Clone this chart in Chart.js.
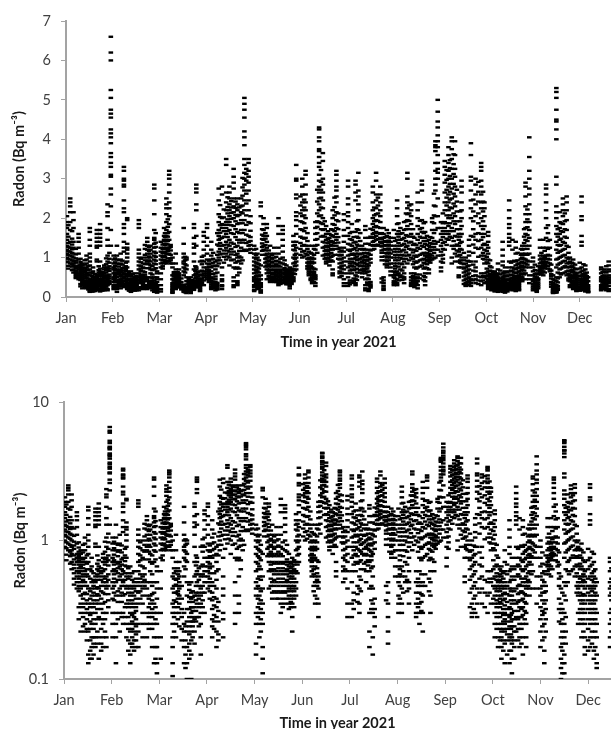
<!DOCTYPE html>
<html>
<head>
<meta charset="utf-8">
<script src="https://cdn.jsdelivr.net/npm/chart.js@4"></script>
<style>
  html, body { margin: 0; padding: 0; background: #fff; overflow: hidden; }
  canvas { position: absolute; left: 0; }
</style>
</head>
<body>
<canvas id="linearChart" style="top:0"></canvas>
<canvas id="logChart" style="top:380px"></canvas>
<script>
const months = ['Jan', 'Feb', 'Mar', 'Apr', 'May', 'Jun', 'Jul', 'Aug', 'Sep', 'Oct', 'Nov', 'Dec'];
const linearTicks = [0, 1, 2, 3, 4, 5, 6, 7];
const logTicks = [0.1, 1, 10];

// every row: fraction of the month, then the radon values read in that column
const jan = [
  [.02, 2.05,1.9,1.75,1.6,1.45,1.3,1.2,1.1,1,.9],
  [.09, 2.5,2.4,2.3,2.15,1.9,1.7,1.4,1.25,1.15,1.05,.95,.85],
  [.16, 2.15,1.95,1.75,1.4,1.25,1.1,1,.9,.85,.8,.7,.62],
  [.27, 1.6,1.5,1.4,1.25,1.1,.95,.8,.75,.7,.6,.55,.5,.45],
  [.35, .85,.8,.75,.7,.65,.6,.55,.5,.45,.4,.35,.3,.22],
  [.44, 1.05,.95,.85,.75,.7,.6,.55,.5,.42,.35,.3,.25,.22],
  [.51, 1.75,1.65,1.45,1.3,1.1,1,.9,.8,.7,.55,.45,.35,.3,.22,.15,.13],
  [.58, .75,.65,.6,.5,.45,.4,.35,.3,.25,.2,.17,.14],
  [.66, 1.7,1.6,1.5,1.4,1.3,1.25,.95,.9,.55,.5,.45,.4,.35,.3,.25,.2,.17],
  [.73, 1.85,1.7,1.6,1.5,1.4,1.3,.9,.72,.65,.6,.55,.45,.4,.35,.28,.2,.14],
  [.82, .8,.75,.7,.6,.55,.5,.42,.35,.3,.25,.2,.17],
  [.89, 2.35,2.15,2.05,1.75,1.45,1.3,1.05,.9,.75,.7,.55,.5,.45,.3,.2,.17],
  [.96, 6.6,6.2,6,5.25,5.05,4.75,4.65,4.55,4.25,4.15,4.05,3.9,3.65,3.55,3.4,3.3,3.1,3.05,2.75,2.6,2.3,1.7,1.3]
];
const janB = [
  [.05, 1.82,1.53,1.37,1.27,1.16,1.07,.97,.88,.79,.72],
  [.13, 1.67,1.48,1.33,1.21,1.12,1.03,.93,.83,.77,.68],
  [.21, 1.22,1.08,.98,.92,.87,.78,.73,.67,.63,.58,.53,.48],
  [.31, .97,.89,.83,.77,.72,.67,.63,.58,.53,.47,.43,.33,.27],
  [.4, .93,.82,.73,.67,.63,.57,.52,.47,.41,.38,.33,.28,.24],
  [.48, .78,.68,.62,.57,.47,.41,.37,.32,.27,.23,.19],
  [.55, .62,.53,.43,.38,.33,.29,.26,.23,.19,.16,.14],
  [.62, .58,.52,.47,.42,.37,.33,.27,.23,.2,.18,.15],
  [.7, .78,.68,.62,.57,.52,.46,.41,.37,.32,.27,.22,.18],
  [.78, .63,.58,.52,.47,.43,.38,.32,.27,.23,.18,.16],
  [.86, .98,.83,.73,.67,.62,.53,.47,.41,.36,.27,.22],
  [.93, 1.12,.97,.87,.78,.72,.66,.57,.52,.47,.41,.37,.33]
];
const feb = [
  [.02, 1.05,.95,.85,.75,.7,.6,.5,.45,.38,.3,.25,.2],
  [.09, 1.3,1.05,.95,.85,.7,.6,.5,.4,.3,.25,.2,.13],
  [.17, 1.1,.95,.85,.7,.65,.55,.45,.4,.3,.22],
  [.24, 3.3,3.2,3,2.95,2.85,2.8,2.45,2.25,2.15,1.85,1.75,1.6,1.4,1.25,1.15,.75,.6,.5,.4,.3,.25],
  [.31, 2,1.95,1.35,1.25,1.2,1.1,1,.9,.75,.65,.55,.45,.35,.25,.2],
  [.39, .65,.55,.45,.4,.35,.3,.25,.22,.18,.15,.13],
  [.47, .6,.5,.45,.4,.35,.3,.28,.25,.22,.19,.16],
  [.56, 1.95,1.85,1.75,1.2,1.1,1,.9,.8,.7,.6,.5,.42,.35,.25,.22,.17],
  [.65, 1,.85,.75,.65,.55,.5,.45,.4,.35,.3,.25,.2],
  [.74, 1.5,1.4,1.3,1.2,1.1,1,.9,.85,.5,.45,.4,.3,.25,.2],
  [.81, 1.3,1.2,1.1,1,.9,.8,.7,.6,.5,.4,.35,.3,.25],
  [.89, 2.85,2.75,2.45,2.1,1.7,1.5,1.45,1.35,1.25,1.15,1.05,.95,.85,.7,.5,.42,.35,.3,.25,.2,.13],
  [.95, .65,.6,.5,.45,.38,.3,.25,.2,.17,.13,.11]
];
const febB = [
  [.05, .98,.88,.79,.72,.67,.62,.57,.53,.47,.42,.37],
  [.13, .93,.83,.77,.68,.63,.58,.52,.43,.36,.27],
  [.21, .92,.82,.73,.67,.62,.57,.52,.47,.42,.36,.28],
  [.28, .87,.78,.71,.66,.58,.52,.47,.41,.33,.28],
  [.35, .63,.58,.53,.47,.42,.37,.33,.28,.23,.19,.16],
  [.43, .58,.52,.47,.42,.37,.33,.29,.26,.23,.2,.18,.17],
  [.51, .53,.47,.43,.38,.33,.31,.27,.24,.21,.19,.17],
  [.6, .97,.88,.78,.72,.66,.57,.53,.47,.43,.38],
  [.69, 1.32,1.22,1.07,.93,.83,.73,.63,.57,.52,.47],
  [.78, 1.27,1.17,1.03,.93,.83,.73,.38,.33,.28,.23],
  [.85, .78,.68,.57,.47,.41,.37,.32,.28,.23,.17],
  [.92, 1.62,1.38,1.27,1.12,1.02,.92,.83,.73,.33,.27,.17,.14]
];
const mar = [
  [.03, 1.4,1.25,1.15,1.05,.95,.85,.75,.6,.45,.3,.2,.14],
  [.1, 1.75,1.55,1.45,1.35,1.25,1.15,1.05,.95,.85],
  [.15, 2.5,2.35,2.25,2.1,1.9,1.7,1.55,1.45,1.35,1.25,1.1,.9,.85],
  [.21, 3.2,3.1,3,2.85,2.65,2.4,2.25,2.05,1.85,1.65,1.45,1.25,1.1,.9],
  [.28, 1,.85,.75,.55,.45,.35,.3,.25,.2,.17,.13,.105],
  [.35, 1.1,.85,.7,.6,.52,.48,.42,.36,.3,.25,.2],
  [.42, .7,.6,.55,.5,.45,.4,.35,.3,.24],
  [.52, 1.75,1.35,1.1,1,.9,.85,.75,.65,.55,.3,.25,.22,.17,.13],
  [.58, 1,.95,.8,.7,.5,.4,.32,.26,.22,.17,.13,.1],
  [.67, .5,.42,.38,.33,.3,.26,.22,.19,.15,.1],
  [.74, 1.85,1.75,1.5,1.35,1.25,1.1,.9,.7,.55,.4,.33,.27,.22,.18],
  [.79, 2.85,2.75,2.65,2.35,2.2,1.55,1.3,.75,.7,.6,.5,.4,.35,.28],
  [.87, .9,.65,.55,.45,.4,.35,.3,.25,.2,.15],
  [.95, 1.65,1.55,1.4,1.2,1.05,.9,.75,.65,.6,.55,.5,.42,.3]
];
const marB = [
  [.07, 1.33,1.22,1.12,1.02,.93,.87,.78,.72],
  [.12, 1.62,1.52,1.42,1.32,1.22,1.12,1.02,.92,.87],
  [.18, 1.97,1.78,1.62,1.53,1.42,1.33,1.22,1.17,1.08,.98,.92],
  [.24, 1.32,1.27,1.18,1.07,.98,.93,.85],
  [.31, .63,.58,.53,.47,.42,.37,.33,.28,.22],
  [.39, .63,.57,.53,.47,.43,.41,.38,.33,.27],
  [.47, .47,.38,.32,.28,.23,.19],
  [.55, 1.02,.93,.83,.72,.62,.24,.19,.15,.12],
  [.63, .48,.44,.39,.36,.32,.28,.24,.21,.18,.16,.14],
  [.7, .43,.39,.36,.33,.31,.28,.26,.24,.2],
  [.77, .78,.66,.57,.47,.42,.37,.31,.26],
  [.83, .63,.57,.52,.47,.42,.38,.33,.28,.24],
  [.91, 1.02,.92,.83,.67,.57,.47,.42,.37,.33]
];
const apr = [
  [.02, 1.85,1.75,1.5,1.3,1.1,.95,.85,.75,.7,.65,.6,.55,.5,.45],
  [.11, 1.4,1.2,1.05,.95,.85,.75,.65,.5,.42,.37,.32,.27,.24,.2],
  [.2, .9,.8,.7,.6,.52,.45,.38,.33,.28,.22,.17],
  [.27, 2.75,2.45,2.1,1.9,1.7,1.55,1.45,1.3,1.15,1,.85],
  [.34, 2.8,2.6,2,1.85,1.75,1.5,1.3,1.1,.75,.55,.45,.4,.3,.27,.2],
  [.43, 3.5,3.35,2.65,2.4,2.2,1.9,1.75,1.6,1.4,1.25,1.1,.95],
  [.5, 2.8,2.65,2.5,2.35,2.2,2.05,1.9,1.7,1.45,1.3,1.15,1,.8],
  [.59, 3.25,3.05,2.9,2.75,2.5,2.3,2.15,2,1.8,1.6,1.35,1.15,.95,.75,.5,.4,.3,.25],
  [.67, 2.5,2.35,2.2,2.05,1.85,1.65,1.45,1.3,1.1,1,.9,.75,.55,.4,.35,.3],
  [.75, 2.5,2.3,2.15,1.95,1.7,1.45,1.25,1,.85],
  [.82, 5.05,4.9,4.75,4.55,4.2,4.05,3.85,3.5,3.35,3.15,3,2.85,2.7,2.45,2.2,1.95,1.7,1.45,1.2],
  [.91, 3.5,3.4,3.2,3.05,2.9,2.7,2.45,2.2,1.9,1.55,1.4,1.3,1.2]
];
const aprB = [
  [.06, .92,.83,.77,.68,.63,.58,.53,.47,.43,.38],
  [.15, 1.12,.97,.87,.78,.58,.47,.39,.34,.29,.26,.23],
  [.24, 1.62,1.33,1.07,.93,.78,.62,.36,.31,.26,.21,.19],
  [.3, 2.33,2.03,1.82,1.63,1.48,1.37,1.22,1.08,.93],
  [.38, 2.22,2.02,1.83,1.67,1.53,1.32,1.18,1.02,.87],
  [.46, 2.53,2.28,2.12,1.97,1.83,1.67,1.52,1.33,1.18,1.03],
  [.54, 2.43,2.27,2.13,1.98,1.82,1.62,1.38,1.22,1.08,.93],
  [.63, 2.42,2.26,2.08,1.92,1.72,1.52,1.27,1.07,.87,.72],
  [.71, 2.27,2.08,1.87,1.62,1.38,1.17,1.03,.92,.72,.62],
  [.78, 3.02,2.78,2.57,2.32,2.12,1.87,1.62,1.38,1.17,.93],
  [.86, 3.25,3.12,2.95,2.62,2.37,2.07,1.83,1.58,1.37,1.17],
  [.95, 2.05,1.87,1.68,1.52,1.42,1.32,1.22,1.12]
];
const may = [
  [.03, 1.3,1.2,1.1,1,.9,.8,.7,.6,.5,.45,.4,.3,.25,.18,.15],
  [.1, 1.1,1,.85,.75,.65,.55,.45,.4,.35,.3,.25,.2],
  [.17, 2.4,2.3,2.05,.8,.55,.45,.35,.3,.25,.17,.14,.11],
  [.23, 2,1.85,1.7,1.55,1.45,1.3,1.2],
  [.3, 1.85,1.75,1.55,1.4,1.25,1.1,1,.9,.8,.7,.6,.45],
  [.37, 1.3,1.1,1,.9,.8,.7,.6,.5,.42,.38],
  [.46, 1.25,1.1,1,.9,.8,.7,.6,.5,.42,.38],
  [.55, 2,1.8,1.6,1.25,1.1,.9,.8,.7,.6,.5,.42,.35,.3],
  [.64, 1.8,1.7,1.6,1.45,1.3,1.15,1,.85,.7,.6,.5,.42,.35],
  [.72, .8,.7,.65,.6,.55,.5,.45,.4,.35,.32],
  [.79, .75,.7,.65,.6,.55,.5,.45,.4,.35,.28,.22],
  [.87, 1.55,1.4,1.3,1.2,1,.85,.7,.6,.5,.45,.4],
  [.93, 3.35,3,2.95,2.6,2.5,2.15,2.05,1.95,1.8,1.6,1.4,1.25,1.1,1,.9,.8,.7]
];
const mayB = [
  [.07, 1.22,1.07,.97,.87,.77,.68,.62,.53,.47,.38,.33,.28],
  [.13, .93,.83,.72,.62,.52,.43,.37,.32,.27,.22],
  [.2, 1.72,1.58,1.47,1.36,1.27,1.17,1.07],
  [.27, 1.62,1.48,1.32,1.18,1.07,.97,.87,.77],
  [.34, 1.18,1.03,.93,.83,.77,.67,.62,.53,.47],
  [.41, 1.07,.97,.87,.77,.68,.62,.57,.52,.47,.43],
  [.5, 1.02,.92,.83,.77,.68,.63,.57,.53,.47,.43,.38],
  [.59, .97,.87,.77,.68,.63,.57,.53,.47,.43,.38,.33],
  [.68, .93,.83,.73,.67,.62,.57,.52,.47,.43,.38],
  [.76, .68,.63,.58,.53,.47,.43,.38,.36,.33],
  [.83, .72,.67,.62,.58,.53,.47,.43,.38,.33],
  [.9, 1.32,1.18,1.07,.97,.87,.78,.67,.58]
];
const jun = [
  [.06, 3,2.8,2.6,2.4,2.2,2.05,1.9,1.7,1.5,1.3,1.15,1],
  [.13, 3.2,3.1,2.85,2.6,2.4,2.2,2,1.75,1.5,1.3,1.1],
  [.2, 1.3,1.15,1,.9,.85,.8,.75,.7,.65,.6,.55],
  [.27, 1.3,1.1,1,.9,.85,.75,.65,.55,.5,.4,.35],
  [.34, 1.9,1.75,1.6,1.45,1.3,1.2,.7,.55,.5,.45,.35,.28],
  [.42, 4.3,4.25,4.05,3.95,3.75,3.7,3.55,3.4,3.3,3.1,2.95,2.8,2.65,2.5,2.35,2.2,2.05,1.9],
  [.5, 3.65,3.45,3,2.85,2.65,2.45,2.25,2,1.85,1.7,1.55,1.4,1.25,1.05],
  [.57, 1.8,1.6,1.45,1.3,1.2,1.1,1,.9,.85],
  [.64, 1.6,1.5,1.4,1.3,1.2,1.1,1,.9,.8],
  [.71, 2.2,2,1.85,1.7,1.55,1.4,1.3,1.2,1.05,.9,.7,.6,.55],
  [.79, 3.2,3.1,2.95,2.8,2.7,2.55,2.4,2.15,1.95,1.75,1.6,1.45,1.3],
  [.86, 1.25,1.15,1.05,.95,.85,.75,.65,.6,.5],
  [.95, 2.1,1.95,1.7,1.55,1.4,1.25,1.15,1,.9,.8,.7,.6,.45,.35,.28]
];
const junB = [
  [.02, 2.55,2.32,2.12,1.92,1.72,1.53,1.37,1.22,1.07],
  [.1, 2.47,2.27,2.07,1.87,1.67,1.48,1.32,1.17,1.03],
  [.17, 1.62,1.42,1.22,1.07,.97,.87,.78,.72],
  [.24, 1.12,.97,.87,.78,.72,.62,.57,.47,.43],
  [.31, 1.22,1.07,.97,.87,.72,.63,.58,.52,.47,.38],
  [.38, 2.72,2.42,2.12,1.92,1.78,1.62,1.47,1.32,1.12],
  [.46, 3.22,2.92,2.72,2.52,2.27,2.07,1.87,1.72,1.53],
  [.54, 1.92,1.72,1.53,1.38,1.27,1.17,1.07,.97],
  [.61, 1.67,1.47,1.37,1.27,1.17,1.07,.97,.9],
  [.68, 1.72,1.57,1.42,1.33,1.22,1.12,1.02,.93],
  [.75, 2.52,2.28,2.07,1.83,1.67,1.52,1.37,1.22,1.07],
  [.83, 2.12,1.92,1.72,1.52,1.38,1.22,1.07,.97],
  [.9, 1.18,1.07,.97,.87,.78,.72,.62,.53]
];
const jul = [
  [.04, 2.95,2.8,2.5,2.35,2.15,2.05,1.9,1.75,1.55,1.35,1.2,1.05,.9,.75,.6,.5,.35,.28],
  [.12, 1.85,1.65,1.45,1.3,1.2,1.1,.9,.8,.7,.6],
  [.2, 2.95,2.85,2.65,2.45,1.65,1.4,1.25,1.1,1,.85,.7,.55,.45,.35,.3],
  [.26, 3.15,2.7,2.55,2.35,2.2,1.95,1.7,1.5,1.3,1.1,.95,.8],
  [.34, 1.3,1.2,1.1,1,.9,.8,.7,.6,.5],
  [.41, 1.8,1.7,1.5,1.35,1.2,1.05,.95,.85,.7,.6,.45,.3,.22,.17],
  [.48, 1.5,1.35,1.2,1.1,.95,.8,.65,.55,.45,.35,.3,.2,.15],
  [.57, 2.8,2.65,2.4,2.2,2,1.85,1.7,1.6,1.5,1.4,1.3,1.2],
  [.64, 3.15,2.95,2.6,2.45,2.25,2.1,1.95,1.8,1.65,1.55,1.45,1.3],
  [.73, 2.8,2.6,2.4,2.2,2.05,1.9,1.75,1.6,1.5,1.4,1.3],
  [.8, 1.75,1.6,1.5,1.4,1.3,1.2,.5,.42,.35,.28,.22,.18],
  [.87, 1.7,1.55,1.4,1.3,1.2,1.1,1,.9,.8,.75],
  [.95, 1.5,1.4,1.3,1.2,1.1,1,.85,.75,.65,.55]
];
const julB = [
  [.08, 1.62,1.47,1.33,1.17,1.07,.97,.85,.78,.67,.42,.37,.32],
  [.16, 1.52,1.38,1.22,1.07,.97,.87,.77,.68,.47,.41,.36],
  [.23, 1.92,1.72,1.53,1.33,1.18,1.03,.93,.83,.72,.62,.52,.43],
  [.3, 1.62,1.42,1.22,1.08,.97,.87,.78,.68,.62],
  [.38, 1.22,1.12,1.02,.93,.87,.78,.72,.66],
  [.45, 1.12,1.02,.92,.83,.77,.72,.63,.47,.37,.32],
  [.52, 1.73,1.53,1.32,1.18,1.07,.97,.87,.38,.32,.28,.24],
  [.6, 2.27,2.07,1.92,1.77,1.62,1.52,1.42,1.32,1.22],
  [.68, 2.52,2.32,2.12,1.93,1.77,1.62,1.47,1.33],
  [.76, 1.62,1.47,1.37,1.28,1.18,1.12,1.02,.93,.47,.37],
  [.83, 1.52,1.42,1.32,1.22,1.12,1.03,.93,.83],
  [.91, 1.62,1.52,1.43,1.33,1.23,1.13,1.03,.93,.83]
];
const aug = [
  [.02, 1.7,1.5,1.3,1.15,1,.85,.65,.55,.5,.4,.35,.3],
  [.09, 2.45,2.25,2.05,1.85,1.6,1.45,1.3,1.15,1,.85,.65,.55,.45,.35,.3],
  [.16, 1.75,1.6,1.45,1.3,1.15,1,.85,.7,.55,.5],
  [.24, 1.9,1.7,1.5,1.35,1.2,1.05,.9,.75,.6,.5,.45,.35],
  [.31, 3.15,3,2.55,2.4,2.25,2.1,1.95,1.8,1.55,1.3,1.05,.85],
  [.39, 2.35,2.2,2.05,1.85,1.6,1.4,1.2,1,.6,.5,.42,.35,.3,.28],
  [.46, 1.5,1.35,1.2,1.05,.9,.75,.6,.5,.42,.35,.3,.25],
  [.53, 2.65,2.4,2.2,2,1.8,1.6,1.45,1.25,1.05,.9,.75,.5,.4,.3,.22],
  [.62, 2.95,2.85,2.7,2.4,1.95,1.75,1.65,1.5,1.3,1.1,.95,.8],
  [.69, 1.9,1.65,1.5,1.35,1.1,1.05,.95,.85,.75,.6,.5,.4,.3],
  [.77, 1.45,1.3,1.2,1.1,1.05,1,.95,.9,.7,.6],
  [.84, 2,1.9,1.7,1.5,1.35,1.2,1.05,.95],
  [.91, 3.95,3.85,3.8,3.7,3.4,3.2,3,2.85,2.7,2.3,2.05,1.7,1.35,1.2,1],
  [.96, 5,4.7,4.45,4.3,4.1,3.95,3.8,3.6,3.4,3.25,3.15,3,2.5,2.05,1.75,1.4,1.2,1.05]
];
const augB = [
  [.05, 1.42,1.22,1.07,.93,.78,.72,.62,.57,.47,.38],
  [.12, 1.87,1.67,1.53,1.37,1.22,1.07,.93,.77,.6,.42],
  [.2, 1.62,1.47,1.32,1.18,1.07,.97,.83,.67,.52,.43],
  [.28, 2.12,1.92,1.72,1.57,1.42,1.27,1.13,.97],
  [.35, 2.32,2.12,1.93,1.72,1.53,1.38,1.22,1.07,.93],
  [.43, 1.72,1.53,1.32,1.13,.97,.83,.53,.47,.38,.33],
  [.5, 1.32,1.17,1.02,.87,.72,.57,.47,.41,.36,.31],
  [.58, 1.93,1.72,1.53,1.37,1.22,1.07,.93,.77,.57,.47],
  [.66, 1.87,1.62,1.42,1.27,1.12,.97,.87,.72,.53,.43],
  [.73, 1.55,1.42,1.32,1.22,1.12,1.02,.92,.83,.73],
  [.8, 1.52,1.37,1.27,1.17,1.08,1,.93,.87],
  [.88, 2.62,2.32,2.07,1.87,1.62,1.42,1.27,1.12,.98]
];
const sep = [
  [.03, 1.9,1.75,1.6,1.45,1.3,1.15,1.05,.9,.75,.65],
  [.11, 3.45,3.3,3.1,2.9,2.65,2.4,2.2,1.9,1.75,1.6,1.4,1.2],
  [.19, 3.8,3.6,3.4,3.2,3,2.8,2.6,2.4,2.2,2,1.8,1.6,1.45],
  [.26, 4.05,3.95,3.75,3.5,3.25,3,2.75,2.5,2.25,2,1.75,1.5,1.3,1,.85],
  [.33, 3.95,3.6,3.25,3.05,2.8,2.55,2.3,2.05,1.85,1.55,1.3,1.1,.9],
  [.41, 1.6,1.45,1.3,1.15,1.05,.9,.75,.55,.5],
  [.47, 2.95,2.8,2.65,2.4,2.2,2,1.8,1.6,1.4,1.2,1,.85,.75],
  [.56, 1,.85,.75,.65,.55,.45,.35,.3,.28],
  [.63, 1.45,1.3,1.15,1.05,.9,.8,.7,.6,.5,.4,.3],
  [.67, 3.9,3.6,3.05,2.95,2.7,2.45,2.25,2,1.55,.9,.45,.35,.28],
  [.77, 3,2.85,2.6,2.35,2.05,1.6,1.45,1.25,.9,.75,.65,.55,.45,.35],
  [.89, 3.4,3.3,3.2,2.95,2.8,2.6,2.4,2.25,2,1.8,1.6,1.45,1.25,1.05,.6,.5,.4,.3],
  [.96, 2.4,2.25,2.05,1.8,1.6,1.35,1.2,1.05,.95,.85,.6,.5,.35]
];
const sepB = [
  [.07, 2.12,1.87,1.67,1.52,1.37,1.22,1.07,.97,.87],
  [.15, 3.22,2.97,2.72,2.52,2.32,2.07,1.87,1.67,1.48,1.32],
  [.22, 3.47,3.27,3.07,2.87,2.67,2.47,2.27,2.07,1.87,1.67,1.53],
  [.3, 3.62,3.37,3.12,2.87,2.62,2.37,2.12,1.92,1.67,1.42,1.22],
  [.37, 2.72,2.42,2.17,1.92,1.72,1.53,1.33,1.18,1.03],
  [.44, 2.17,1.92,1.72,1.53,1.37,1.22,1.07,.93,.87],
  [.52, 1.12,.93,.83,.72,.62,.52,.42,.33],
  [.6, .92,.78,.67,.57,.47,.38,.32],
  [.72, 2.47,2.17,1.92,1.72,1.53,1.33,1.12,.82,.67,.53,.42],
  [.83, 2.92,2.67,2.42,2.12,1.87,1.62,1.42,1.22,1.02,.52,.42,.33],
  [.93, 2.67,2.42,2.17,1.92,1.72,1.52,1.32,1.12,.97,.53,.42]
];
const oct = [
  [.04, 1.65,1.55,1.4,1.25,1.1,.95,.85,.65,.55,.45,.4,.35,.3,.25,.2],
  [.11, .75,.65,.55,.5,.45,.4,.35,.3,.25,.2,.17],
  [.18, .65,.6,.55,.5,.45,.4,.35,.3,.25,.22,.2,.17,.14],
  [.25, .85,.7,.6,.5,.45,.42,.38,.34,.3,.27,.25,.22,.18,.13],
  [.35, 1.4,1.2,1.05,.9,.8,.6,.5,.45,.4,.33,.28,.24,.2,.16,.13],
  [.4, .75,.65,.55,.45,.4,.35,.3,.27,.24,.2,.18,.14,.11],
  [.49, 2.45,2.2,2,1.85,1.75,1.6,1.5,1.4,1.3,.9,.75,.65,.55,.45,.35,.28,.22],
  [.56, 1.45,1.2,.9,.75,.65,.55,.48,.42,.37,.33,.28,.25,.2,.17],
  [.63, 1.4,1.25,1.1,.9,.8,.7,.6,.5,.42,.38,.33,.29,.25,.2,.15],
  [.7, .85,.75,.65,.55,.5,.45,.4,.35,.3,.25,.2,.17],
  [.77, 1.3,1.2,1.1,1,.9,.8,.75,.7,.6,.5,.45,.4],
  [.84, 2.9,2.8,2.55,2.3,2.1,1.9,1.75,1.6,1.45,1.3,1.1,.95,.85,.75,.6,.45],
  [.92, 4.05,3.55,3.2,3,2.75,2.6,2.35,2.1,1.9,1.7,1.5,1.3,1.1,.9,.75,.55,.45,.35]
];
const octB = [
  [.01, 1.32,1.17,1.02,.88,.72,.62,.53,.47,.38],
  [.08, .93,.78,.67,.58,.52,.47,.43,.37,.33,.28,.23],
  [.15, .62,.57,.52,.47,.43,.38,.36,.33,.28,.23,.19],
  [.22, .58,.53,.47,.41,.37,.32,.29,.26,.23,.19,.16],
  [.3, .67,.57,.47,.41,.36,.32,.29,.26,.23,.21,.19,.15],
  [.38, .62,.52,.43,.37,.32,.29,.26,.23,.21,.19,.16],
  [.45, .62,.52,.43,.37,.31,.27,.24,.22,.19,.17,.14],
  [.53, .87,.67,.57,.47,.41,.36,.31,.27,.23,.19],
  [.6, .92,.72,.62,.53,.47,.43,.37,.32,.28,.23,.18],
  [.67, 1.12,.93,.83,.73,.62,.53,.47,.41,.36,.31,.27],
  [.74, 1.22,1.07,.97,.87,.78,.67,.58,.52,.47],
  [.81, 1.72,1.53,1.37,1.22,1.07,.97,.87,.77,.67,.57],
  [.88, 2.22,1.97,1.77,1.57,1.42,1.22,1.07,.92,.82]
];
const nov = [
  [.0, 1,.9,.75,.65,.55,.45,.4,.33,.27,.22,.17],
  [.08, .6,.5,.42,.35,.3,.25,.2,.16,.13],
  [.15, 1.45,1.25,1.05,.95,.85,.75,.7,.65,.6],
  [.22, 1.45,1.25,1.05,.95,.9,.85,.8,.75,.65,.55],
  [.28, 2.85,2.75,2.6,2.4,2.2,2,1.75,1.5,1.25,1.05,.9,.8],
  [.36, 1.45,1.25,1.05,.95,.85,.7,.65],
  [.43, .55,.45,.35,.3,.25,.2,.17,.14,.12,.1],
  [.5, 5.3,5.2,5.05,4.75,4.5,4.45,4.25,4,3.05,2.85,2.3,2.15,2,1.8,1.6,1.4,1.2,.95,.75,.5,.4,.3,.25,.2,.15,.13,.11],
  [.57, 2.15,1.9,1.75,1.6,1.45,1.3,1.15,1,.85,.7,.6,.5],
  [.64, 2.5,2.35,2.2,2.05,1.85,1.65,1.4,1.2,1.05,.9,.75,.6],
  [.72, 2.55,2.4,2.2,1.95,1.7,1.5,1.3,1,.85,.75,.65,.55],
  [.79, 1,.9,.85,.75,.65,.55,.5,.45,.4,.3,.25],
  [.86, .95,.85,.75,.65,.55,.5,.4,.35,.3,.25,.2],
  [.93, .7,.6,.55,.5,.45,.4,.35,.3,.25,.2,.17,.15]
];
const novB = [
  [.04, .82,.68,.58,.52,.47,.42,.37,.31,.29,.24,.19],
  [.11, .78,.67,.57,.47,.43,.37,.32,.27,.22],
  [.18, 1.12,.98,.88,.78,.72,.67,.62,.57],
  [.25, 1.17,1.02,.97,.87,.82,.77,.72,.62],
  [.32, 1.82,1.62,1.42,1.22,1.07,.97,.87,.78,.72],
  [.39, .82,.67,.58,.53,.47,.38,.32,.26],
  [.46, .42,.32,.27,.22,.18,.16,.13,.11],
  [.53, 1.72,1.53,1.32,1.12,.97,.82,.62,.47,.37,.28,.22,.18],
  [.6, 1.87,1.67,1.48,1.32,1.17,1.02,.87,.72,.57],
  [.68, 2.12,1.92,1.72,1.53,1.37,1.22,1.07,.92,.78,.62],
  [.76, 1.27,1.12,.97,.87,.77,.67,.58,.47,.42],
  [.83, .87,.78,.68,.62,.53,.47,.42,.37,.32,.27],
  [.9, .82,.72,.62,.57,.52,.47,.41,.37,.32,.27,.22]
];
const dec = [
  [.04, 2.55,2.4,2.05,1.95,1.55,1.4,1.3,.75,.65,.55,.45,.4,.35,.3,.25,.2,.17],
  [.12, .8,.7,.6,.55,.5,.45,.4,.35,.3,.25,.2,.16,.14],
  [.18, .5,.4,.3,.25,.2,.15,.13,.12],
  [.46, .75,.7,.6,.5,.45,.4,.3,.25,.2,.17],
  [.53, .7,.65,.55,.5,.45,.4,.35,.3,.25,.2],
  [.62, .9,.8,.7,.65,.55,.5,.45,.4,.35,.28,.2,.15]
];
const decB = [
  [.0, .87,.72,.62,.53,.47,.42,.37,.32,.27,.23,.19,.16],
  [.08, .83,.67,.58,.52,.47,.43,.37,.32,.27,.22,.18],
  [.15, .62,.53,.47,.42,.37,.32,.27,.22,.17],
  [.49, .63,.53,.47,.42,.37,.32,.27,.22],
  [.57, .78,.62,.52,.47,.42,.37,.32,.27,.22,.17]
];

const allMonths = [
  jan.concat(janB), feb.concat(febB), mar.concat(marB), apr.concat(aprB),
  may.concat(mayB), jun.concat(junB), jul.concat(julB), aug.concat(augB),
  sep.concat(sepB), oct.concat(octB), nov.concat(novB), dec.concat(decB)
];

// turn the month rows into scatter points, x is measured in months since 1 Jan
const points = [];
allMonths.forEach((rows, m) => {
  rows.forEach((row) => {
    row.slice(1).forEach((v) => {
      points.push({ x: m + row[0], y: v });
    });
  });
});

const axisGrey = '#a3a3a3';
const textColor = '#404040';

function makeChart(id, w, h, opts) {
  const canvas = document.getElementById(id);
  canvas.width = w;
  canvas.height = h;
  return new Chart(canvas.getContext('2d'), {
    type: 'scatter',
    data: {
      datasets: [{
        data: points,
        pointStyle: 'line',
        pointRadius: 2.3,
        pointBorderWidth: 2.4,
        pointBorderColor: '#000',
        pointBackgroundColor: '#000'
      }]
    },
    options: {
      responsive: false,
      animation: false,
      events: [],
      layout: { autoPadding: false, padding: { top: opts.top, left: opts.padLeft, right: 0, bottom: 0 } },
      plugins: { legend: { display: false }, tooltip: { enabled: false } },
      scales: {
        x: {
          type: 'linear',
          min: 0,
          max: opts.xMax,
          afterFit: (s) => {
            s.height = opts.xHeight;
            s.paddingRight = 0;
            s.paddingLeft = 0;
          },
          afterBuildTicks: (s) => { s.ticks = months.map((_, i) => ({ value: i })); },
          border: { color: axisGrey, width: 2 },
          grid: { drawOnChartArea: false, color: axisGrey, tickLength: 5, tickWidth: 1 },
          ticks: {
            autoSkip: false,
            maxRotation: 0,
            color: textColor,
            padding: 8,
            font: { family: 'Lato', size: 14.5 },
            callback: (v) => months[v]
          },
          title: {
            display: true,
            text: 'Time in year 2021',
            color: '#1a1a1a',
            padding: { top: 6, bottom: 0 },
            font: { family: 'Lato', size: 14.5, weight: 'bold' }
          }
        },
        y: {
          type: opts.yType,
          min: opts.yMin,
          max: opts.yMax,
          afterFit: (s) => { s.width = opts.left - opts.padLeft; },
          afterBuildTicks: (s) => { s.ticks = opts.yTicks.map((v) => ({ value: v })); },
          border: { color: axisGrey, width: 2 },
          grid: { drawOnChartArea: false, color: axisGrey, tickLength: 5, tickWidth: 1 },
          ticks: {
            color: textColor,
            padding: 10,
            font: { family: 'Lato', size: 14.5 },
            callback: (v) => String(v)
          },
          title: {
            display: true,
            text: 'Radon (Bq m⁻³)',
            color: '#1a1a1a',
            padding: { top: 0, bottom: 4 },
            font: { family: 'Lato', size: 14.5, weight: 'bold' }
          }
        }
      }
    }
  });
}

makeChart('linearChart', 611, 351, {
  top: 21, left: 66, padLeft: 11, xHeight: 54, xMax: 11.67,
  yType: 'linear', yMin: 0, yMax: 7, yTicks: linearTicks
});
makeChart('logChart', 611, 352, {
  top: 22, left: 64, padLeft: 12, xHeight: 53, xMax: 11.48,
  yType: 'logarithmic', yMin: 0.1, yMax: 10, yTicks: logTicks
});
</script>
</body>
</html>
